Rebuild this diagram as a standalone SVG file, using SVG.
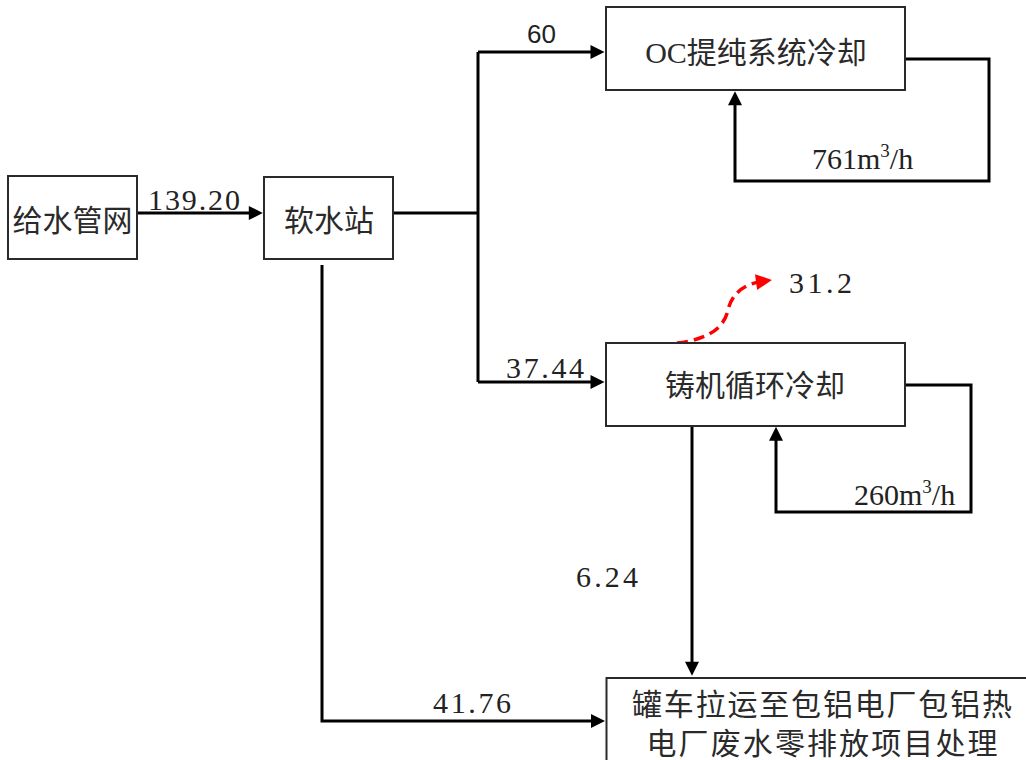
<svg xmlns="http://www.w3.org/2000/svg" width="1026" height="760" viewBox="0 0 1026 760">
<style>
.box{fill:#fff;stroke:#2a2a2a;stroke-width:2}
.cn{font-family:"Liberation Serif","Noto Sans CJK SC",serif;font-size:30px;fill:#2a2a2a;text-anchor:middle}
.num{font-family:"Liberation Serif","Noto Sans CJK SC",serif;font-size:30px;fill:#222}
.sans{font-family:"Liberation Sans",Arial,sans-serif;font-size:26px;fill:#222}
.ln{fill:none;stroke:#000;stroke-width:3;marker-end:url(#ah)}
.pl{fill:none;stroke:#000;stroke-width:3}
.red{fill:none;stroke:#ff0000;stroke-width:3.5;stroke-dasharray:11 6;marker-end:url(#ahr)}
</style>
<defs>
<marker id="ah" viewBox="0 0 10 10" refX="7" refY="5" markerWidth="18" markerHeight="14" markerUnits="userSpaceOnUse" orient="auto"><path d="M0,0 L10,5 L0,10 z" fill="#000"/></marker>
<marker id="ahr" viewBox="0 0 10 10" refX="5" refY="5" markerWidth="21" markerHeight="16" markerUnits="userSpaceOnUse" orient="auto"><path d="M0,0 L10,5 L0,10 z" fill="#ff0000"/></marker>
</defs>
<rect width="1026" height="760" fill="#fff"/>
<g id="connectors">
<path class="ln" d="M137,213 H258.6"/>
<path class="pl" d="M393,213 H478"/>
<path class="pl" d="M478,52 V382"/>
<path class="ln" d="M478,52 H600.3"/>
<path class="ln" d="M478,382 H600.3"/>
<path class="ln" d="M905,59 H989 V181 H735 V95.4"/>
<path class="ln" d="M905,385 H971 V512 H776 V431"/>
<path class="ln" d="M692,426 V671.6"/>
<path class="ln" d="M322,265 V721 H600.8"/>
<path class="red" d="M677,343 Q722,338 728,310 Q734,285 764,281"/>
<text class="num" x="148" y="210" textLength="92" lengthAdjust="spacing">139.20</text>
<text class="sans" x="527" y="43">60</text>
<text class="num" x="506" y="378" textLength="78" lengthAdjust="spacing">37.44</text>
<text class="num" x="789" y="293" textLength="63" lengthAdjust="spacing">31.2</text>
<text class="num" x="576" y="587" textLength="62" lengthAdjust="spacing">6.24</text>
<text class="num" x="433" y="713" textLength="78" lengthAdjust="spacing">41.76</text>
<text class="num" x="812" y="169">761m<tspan font-size="19" dy="-12">3</tspan><tspan dy="12">/h</tspan></text>
<text class="num" x="854" y="505">260m<tspan font-size="19" dy="-12">3</tspan><tspan dy="12">/h</tspan></text>
</g>
<g id="node-gsgw">
<rect class="box" x="8" y="176" width="129" height="83"/>
<text class="cn" x="72.5" y="231">给水管网</text>
</g>
<g id="node-rsz">
<rect class="box" x="264" y="177" width="129" height="82"/>
<text class="cn" x="329" y="231">软水站</text>
</g>
<g id="node-oc">
<rect class="box" x="606" y="7" width="299" height="83"/>
<text class="cn" x="756" y="63">OC提纯系统冷却</text>
</g>
<g id="node-zj">
<rect class="box" x="606" y="343" width="299" height="83"/>
<text class="cn" x="755" y="396">铸机循环冷却</text>
</g>
<g id="node-gc">
<rect class="box" x="606.5" y="678" width="440" height="100"/>
<text class="cn" x="822" y="714.5" textLength="380" lengthAdjust="spacing">罐车拉运至包铝电厂包铝热</text>
<text class="cn" x="822" y="753.5" textLength="351" lengthAdjust="spacing">电厂废水零排放项目处理</text>
</g>
</svg>
